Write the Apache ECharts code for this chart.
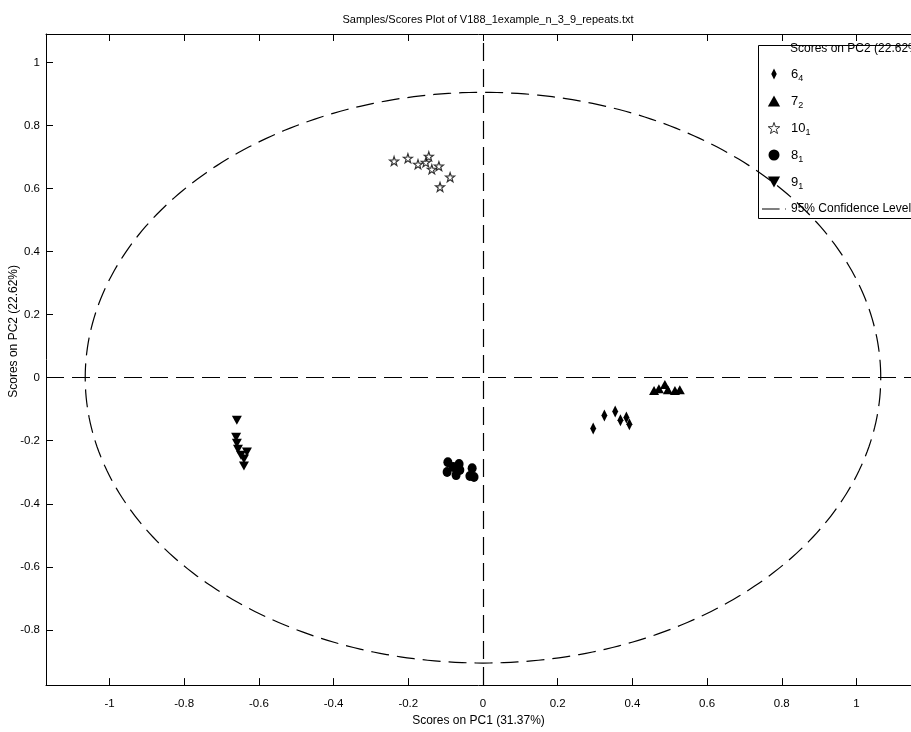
<!DOCTYPE html>
<html>
<head>
<meta charset="utf-8">
<script src="https://cdn.jsdelivr.net/npm/echarts@6/dist/echarts.min.js"></script>
<style>html,body{margin:0;padding:0;background:#fff;}#c{width:911px;height:732px;}</style>
</head>
<body>
<div id="c"></div>
<script>
const titleText = 'Samples/Scores Plot of V188_1example_n_3_9_repeats.txt';
const xName = 'Scores on PC1 (31.37%)';
const yName = 'Scores on PC2 (22.62%)';
const legendHeader = 'Scores on PC2 (22.62%)';
const xTicks = [-1, -0.8, -0.6, -0.4, -0.2, 0, 0.2, 0.4, 0.6, 0.8, 1];
const yTicks = [-0.8, -0.6, -0.4, -0.2, 0, 0.2, 0.4, 0.6, 0.8, 1];
const xRange = [-1.17, 1.146];
const yRange = [-0.975, 1.09];

const names = ['6₄', '7₂', '10₁', '8₁', '9₁'];
const s6 = [[0.295,-0.161],[0.325,-0.120],[0.354,-0.107],[0.368,-0.135],[0.384,-0.126],[0.392,-0.148]];
const s7 = [[0.458,-0.041],[0.471,-0.035],[0.487,-0.022],[0.495,-0.038],[0.514,-0.041],[0.527,-0.038]];
const s10 = [[-0.238,0.687],[-0.201,0.696],[-0.174,0.677],[-0.153,0.683],[-0.145,0.702],[-0.137,0.661],[-0.118,0.671],[-0.088,0.636],[-0.115,0.605]];
const s8 = [[-0.094,-0.268],[-0.096,-0.299],[-0.080,-0.283],[-0.072,-0.309],[-0.062,-0.293],[-0.064,-0.274],[-0.029,-0.287],[-0.035,-0.312],[-0.024,-0.315]];
const s9 = [[-0.659,-0.135],[-0.661,-0.189],[-0.659,-0.208],[-0.656,-0.227],[-0.648,-0.246],[-0.632,-0.236],[-0.640,-0.258],[-0.640,-0.280]];
const confName = '95% Confidence Level';
const confRadii = [1.065, 0.905];

const FONT = '"Liberation Sans Narrow", "Liberation Sans", Arial, sans-serif';
const DIAMOND = 'path://M3,0L6,6L3,12L0,6Z';
const TRI = 'path://M5,0L10,9L0,9Z';
const STAR = 'path://M5,0L6.2,3.6L10,3.7L7,6L8.1,9.6L5,7.5L1.9,9.6L3,6L0,3.7L3.8,3.6Z';
const DOWNTRI = 'path://M0,0L10,0L5,9Z';

const chart = echarts.init(document.getElementById('c'));
const axisCommon = {
  type: 'value',
  axisLine: { show: true, onZero: false, lineStyle: { color: '#000', width: 1 } },
  axisTick: { show: true, inside: true, length: 7, lineStyle: { color: '#000' } },
  splitLine: { show: false }
};
function subRich(name) {
  const m = name.match(/^(\d+)([₀-₉])$/);
  if (!m) return '{t|' + name + '}';
  const sub = String(m[2].charCodeAt(0) - 0x2080);
  return '{b|' + m[1] + '}{s|' + sub + '}';
}
const scatterBase = { type: 'scatter', itemStyle: { color: '#000', opacity: 1 }, z: 5, emphasis: { disabled: true } };

chart.setOption({
  animation: false,
  backgroundColor: '#fff',
  textStyle: { fontFamily: FONT },
  title: {
    text: titleText, left: 483, top: 9, textAlign: 'center',
    textStyle: { fontFamily: FONT, fontSize: 11, fontWeight: 'normal', color: '#000' }
  },
  grid: { left: 46, right: 0, top: 34, bottom: 42, containLabel: false },
  xAxis: [
    Object.assign({}, axisCommon, {
      position: 'bottom', min: xRange[0], max: xRange[1],
      name: xName, nameLocation: 'middle', nameGap: 29,
      nameTextStyle: { fontFamily: FONT, fontSize: 12, color: '#000' },
      axisTick: Object.assign({}, axisCommon.axisTick, { customValues: xTicks }),
      axisLabel: { customValues: xTicks, formatter: v => String(v), color: '#000', fontFamily: FONT, fontSize: 11.5, margin: 13 }
    }),
    Object.assign({}, axisCommon, {
      position: 'top', min: xRange[0], max: xRange[1],
      axisTick: Object.assign({}, axisCommon.axisTick, { customValues: xTicks }),
      axisLabel: { show: false }
    })
  ],
  yAxis: [
    Object.assign({}, axisCommon, {
      position: 'left', min: yRange[0], max: yRange[1],
      axisTick: Object.assign({}, axisCommon.axisTick, { customValues: yTicks }),
      axisLabel: { customValues: yTicks, formatter: v => String(v), color: '#000', fontFamily: FONT, fontSize: 11.5, margin: 6 }
    })
  ],
  legend: {
    orient: 'vertical', left: 762, top: 68, itemWidth: 24, itemHeight: 11, itemGap: 12,
    padding: 0, selectedMode: false,
    data: [
      { name: names[0], icon: DIAMOND },
      { name: names[1], icon: TRI },
      { name: names[2], icon: STAR, itemStyle: { color: '#fff', borderColor: '#000', borderWidth: 1 } },
      { name: names[3], icon: 'circle' },
      { name: names[4], icon: DOWNTRI },
      { name: confName, icon: 'path://M0,0H22V1H0ZM29,0H30V1H29Z' }
    ],
    formatter: subRich,
    textStyle: {
      color: '#000', fontFamily: FONT,
      rich: {
        b: { fontSize: 13, lineHeight: 10, verticalAlign: 'top', fontFamily: FONT, color: '#000' },
        s: { fontSize: 9, lineHeight: 12, padding: [6, 0, 0, 0], verticalAlign: 'top', fontFamily: FONT, color: '#000' },
        t: { fontSize: 12, lineHeight: 14, fontFamily: FONT, color: '#000' }
      }
    }
  },
  graphic: [
    { type: 'rect', left: 756, top: 43, shape: { width: 200, height: 173 }, style: { fill: 'none', stroke: '#000', lineWidth: 1 }, z: 10, silent: true },
    { type: 'text', left: 790, top: 43, style: { text: legendHeader, fontFamily: FONT, fontSize: 12, fill: '#000' }, z: 11 },
    { type: 'text', left: 8, top: 265, rotation: Math.PI / 2, style: { text: yName, fontFamily: FONT, fontSize: 12, fill: '#000', align: 'center', verticalAlign: 'middle' }, z: 11 }
  ],
  series: [
    Object.assign({}, scatterBase, { name: names[0], data: s6, symbol: DIAMOND, symbolSize: [6, 12] }),
    Object.assign({}, scatterBase, { name: names[1], data: s7, symbol: TRI, symbolSize: [10, 9] }),
    Object.assign({}, scatterBase, { name: names[2], data: s10, symbol: STAR, symbolSize: 9, itemStyle: { color: '#fff', borderColor: '#000', borderWidth: 1.2 } }),
    Object.assign({}, scatterBase, { name: names[3], data: s8, symbol: 'circle', symbolSize: [9, 10] }),
    Object.assign({}, scatterBase, { name: names[4], data: s9, symbol: DOWNTRI, symbolSize: [10, 9] }),
    {
      type: 'custom', name: confName, coordinateSystem: 'cartesian2d', silent: true, z: 2,
      itemStyle: { color: '#000' },
      data: [[0, 0, confRadii[0], confRadii[1]]],
      renderItem: function (params, api) {
        const cx = api.value(0), cy = api.value(1), rx = api.value(2), ry = api.value(3);
        const pts = [];
        for (let i = 0; i <= 360; i++) {
          const t = i * Math.PI / 180;
          pts.push(api.coord([cx + rx * Math.cos(t), cy + ry * Math.sin(t)]));
        }
        return { type: 'polyline', shape: { points: pts }, style: { stroke: '#000', fill: 'none', lineWidth: 1.2, lineDash: [18, 8] } };
      },
      markLine: {
        silent: true, symbol: 'none', label: { show: false },
        lineStyle: { color: '#000', width: 1.2, type: [18, 8] },
        data: [{ xAxis: 0 }, { yAxis: 0 }]
      }
    }
  ]
});
</script>
</body>
</html>
